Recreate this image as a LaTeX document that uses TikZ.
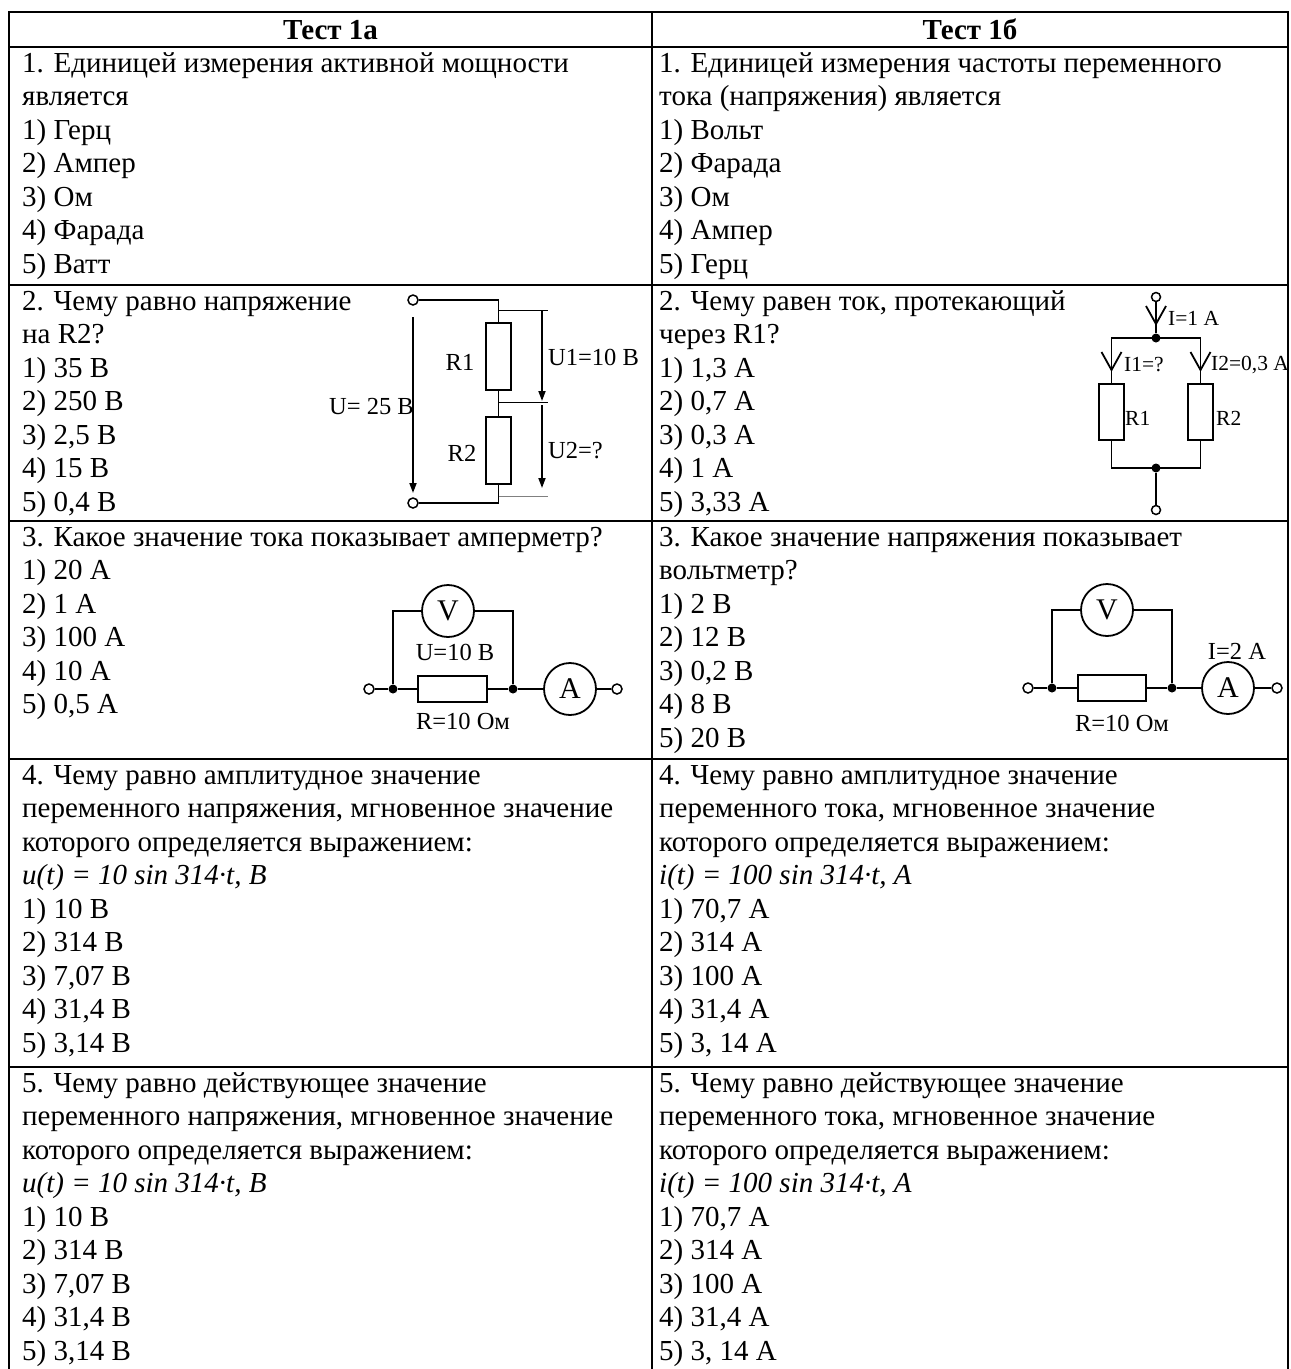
\documentclass[tikz,border=0pt]{standalone}
\usepackage{fontspec}
\setmainfont{Liberation Serif}
\usetikzlibrary{arrows.meta}
\newcommand{\celllines}[4]{%
  \foreach \t [count=\i from 0] in {#4} {
    \node[txt] (#1-\i) at (#2, #3+33.5*\i) {\t};
  }}
\begin{document}
\begin{tikzpicture}[x=1pt,y=-1pt,
  txt/.style={anchor=base west,inner sep=0pt,font=\fontsize{29}{33}\selectfont},
  hdr/.style={anchor=base,inner sep=0pt,font=\fontsize{29}{33}\selectfont\bfseries},
  lbl/.style={inner sep=0pt,font=\fontsize{24.5}{28}\selectfont},
  slbl/.style={inner sep=0pt,font=\fontsize{21.5}{25}\selectfont},
  meter/.style={circle,draw,line width=1.8pt,minimum size=52pt,inner sep=0pt,font=\fontsize{30}{32}\selectfont,fill=white},
  wire/.style={line width=1.8pt},
  tablerule/.style={line width=2pt},
  res/.style={draw,line width=1.8pt,fill=white,inner sep=0pt},
  termc/.style={circle,draw,line width=1.5pt,fill=white,inner sep=0pt,minimum size=10pt},
  jdot/.style={circle,fill,inner sep=0pt,minimum size=9pt},
  varr/.style={line width=1.8pt,-{Triangle[length=10pt,width=7pt]}},
  utick/.style={line width=1pt},
  chev/.style={line width=1.8pt}
]
\useasboundingbox (0,0) rectangle (1291,1369);
% table rules
\draw[tablerule] (9,1369) -- (9,12) -- (1288,12) -- (1288,1369);
\draw[tablerule] (652,12) -- (652,1369);
\foreach \yy in {47,285,521,759,1067} \draw[tablerule] (9,\yy) -- (1288,\yy);
% headers
\node[hdr] (h1) at (330.5,39) {Тест 1а};
\node[hdr] (h2) at (970,39) {Тест 1б};
% row 1
\celllines{a1}{22}{72}{{1. Единицей измерения активной мощности},{является},{1) Герц},{2) Ампер},{3) Ом},{4) Фарада},{5) Ватт}}
\celllines{b1}{659}{72}{{1. Единицей измерения частоты переменного},{тока (напряжения) является},{1) Вольт},{2) Фарада},{3) Ом},{4) Ампер},{5) Герц}}
% row 2
\celllines{a2}{22}{310}{{2. Чему равно напряжение},{на R2?},{1) 35 В},{2) 250 В},{3) 2,5 В},{4) 15 В},{5) 0,4 В}}
\celllines{b2}{659}{310}{{2. Чему равен ток, протекающий},{через R1?},{1) 1,3 А},{2) 0,7 А},{3) 0,3 А},{4) 1 А},{5) 3,33 А}}
% row 3
\celllines{a3}{22}{546}{{3. Какое значение тока показывает амперметр?},{1) 20 А},{2) 1 А},{3) 100 А},{4) 10 А},{5) 0,5 А}}
\celllines{b3}{659}{546}{{3. Какое значение напряжения показывает},{вольтметр?},{1) 2 В},{2) 12 В},{3) 0,2 В},{4) 8 В},{5) 20 В}}
% row 4
\celllines{a4}{22}{784}{{4. Чему равно амплитудное значение},{переменного напряжения, мгновенное значение},{которого определяется выражением:},{\itshape u(t) = 10 sin 314·t, B},{1) 10 В},{2) 314 В},{3) 7,07 В},{4) 31,4 В},{5) 3,14 В}}
\celllines{b4}{659}{784}{{4. Чему равно амплитудное значение},{переменного тока, мгновенное значение},{которого определяется выражением:},{\itshape i(t) = 100 sin 314·t, A},{1) 70,7 А},{2) 314 А},{3) 100 А},{4) 31,4 А},{5) 3, 14 А}}
% row 5
\celllines{a5}{22}{1092}{{5. Чему равно действующее значение},{переменного напряжения, мгновенное значение},{которого определяется выражением:},{\itshape u(t) = 10 sin 314·t, B},{1) 10 В},{2) 314 В},{3) 7,07 В},{4) 31,4 В},{5) 3,14 В}}
\celllines{b5}{659}{1092}{{5. Чему равно действующее значение},{переменного тока, мгновенное значение},{которого определяется выражением:},{\itshape i(t) = 100 sin 314·t, A},{1) 70,7 А},{2) 314 А},{3) 100 А},{4) 31,4 А},{5) 3, 14 А}}

% ---------- circuit 1 (series R1, R2)
\node[termc] (c1t1) at (413,300) {};
\node[termc] (c1t2) at (413,503) {};
\node[res,minimum width=25pt,minimum height=67pt] (c1r1) at (498.5,356.5) {};
\node[res,minimum width=25pt,minimum height=67pt] (c1r2) at (498.5,450.5) {};
\coordinate (c1a) at (498.5,300);
\coordinate (c1b) at (498.5,503);
\draw[wire] (c1t1.east) -- (c1a) -- (c1r1.north);
\draw[wire] (c1r1.south) -- (c1r2.north);
\draw[wire] (c1r2.south) -- (c1b) -- (c1t2.east);
\coordinate (c1u0) at (413,317);
\coordinate (c1u1) at (413,493);
\draw[varr] (c1u0) -- (c1u1);
\coordinate (c1k1a) at (498.5,310); \coordinate (c1k1b) at (548,310);
\coordinate (c1k2a) at (498.5,402); \coordinate (c1k2b) at (548,402);
\coordinate (c1k3a) at (498.5,496); \coordinate (c1k3b) at (548,496);
\draw[utick] (c1k1a) -- (c1k1b);
\draw[utick] (c1k2a) -- (c1k2b);
\draw[utick,gray] (c1k3a) -- (c1k3b);
\coordinate (c1v1a) at (542,310); \coordinate (c1v1b) at (542,401);
\coordinate (c1v2a) at (542,405); \coordinate (c1v2b) at (542,488);
\draw[varr] (c1v1a) -- (c1v1b);
\draw[varr] (c1v2a) -- (c1v2b);
\node[lbl] (c1l1) at (460,362) {R1};
\node[lbl] (c1l2) at (462,453) {R2};
\node[lbl,anchor=west] (c1l3) at (548,357) {U1=10 B};
\node[lbl,anchor=west] (c1l4) at (548,451) {U2=?};
\node[lbl,anchor=east] (c1l5) at (414,406) {U= 25 B};

% ---------- circuit 2 (parallel R1, R2)
\node[termc,minimum size=9pt] (c2t1) at (1156,297) {};
\node[termc,minimum size=9pt] (c2t2) at (1156,510) {};
\node[jdot] (c2j1) at (1156,338) {};
\node[jdot] (c2j2) at (1156,468) {};
\node[res,minimum width=25pt,minimum height=56pt] (c2r1) at (1111.5,412) {};
\node[res,minimum width=25pt,minimum height=56pt] (c2r2) at (1200.5,412) {};
\coordinate (c2a) at (1111.5,338); \coordinate (c2b) at (1200.5,338);
\coordinate (c2c) at (1111.5,468); \coordinate (c2d) at (1200.5,468);
\draw[wire] (c2t1) -- (c2j1);
\draw[wire] (c2r1.north) -- (c2a) -- (c2b) -- (c2r2.north);
\draw[wire] (c2r1.south) -- (c2c) -- (c2d) -- (c2r2.south);
\draw[wire] (c2j2) -- (c2t2);
\foreach \cx/\cy/\nm in {1156/324/c2v0,1111.5/370/c2v1,1200.5/370/c2v2}{
  \coordinate (\nm) at (\cx,\cy);
  \draw[chev] ([shift={(-10,-18)}]\nm) -- (\nm) -- ([shift={(10,-18)}]\nm);
}
\node[slbl,anchor=west] (c2l0) at (1168,318) {I=1 A};
\node[slbl,anchor=west] (c2l1) at (1124,365) {I1=?};
\node[slbl,anchor=west] (c2l2) at (1211,365) {I2=0,3 A};
\node[slbl,anchor=west] (c2l3) at (1125,418) {R1};
\node[slbl,anchor=west] (c2l4) at (1216,418) {R2};

% ---------- circuit 3 (ammeter question)
\node[termc] (c3t1) at (369,689) {};
\node[termc] (c3t2) at (617,689) {};
\node[jdot] (c3j1) at (393,689) {};
\node[jdot] (c3j2) at (513,689) {};
\node[res,minimum width=69pt,minimum height=26pt] (c3r) at (452.5,689) {};
\node[meter] (c3A) at (570,689) {A};
\node[meter] (c3V) at (448,611) {V};
\coordinate (c3a) at (393,611); \coordinate (c3b) at (513,611);
\draw[wire] (c3t1) -- (c3j1) -- (c3r.west);
\draw[wire] (c3r.east) -- (c3j2) -- (c3A.west);
\draw[wire] (c3A.east) -- (c3t2.west);
\draw[wire] (c3j1) -- (c3a) -- (c3V.west);
\draw[wire] (c3V.east) -- (c3b) -- (c3j2);
\node[lbl] (c3l1) at (455,652) {U=10 В};
\node[lbl] (c3l2) at (463,721) {R=10 Ом};

% ---------- circuit 4 (voltmeter question)
\node[termc] (c4t1) at (1028,688) {};
\node[termc] (c4t2) at (1277,688) {};
\node[jdot] (c4j1) at (1052,688) {};
\node[jdot] (c4j2) at (1172,688) {};
\node[res,minimum width=68pt,minimum height=26pt] (c4r) at (1112,688) {};
\node[meter] (c4A) at (1228,688) {A};
\node[meter] (c4V) at (1107,610) {V};
\coordinate (c4a) at (1052,610); \coordinate (c4b) at (1172,610);
\draw[wire] (c4t1) -- (c4j1) -- (c4r.west);
\draw[wire] (c4r.east) -- (c4j2) -- (c4A.west);
\draw[wire] (c4A.east) -- (c4t2.west);
\draw[wire] (c4j1) -- (c4a) -- (c4V.west);
\draw[wire] (c4V.east) -- (c4b) -- (c4j2);
\node[lbl] (c4l1) at (1237,651) {I=2 A};
\node[lbl] (c4l2) at (1122,723) {R=10 Ом};
\end{tikzpicture}
\end{document}
